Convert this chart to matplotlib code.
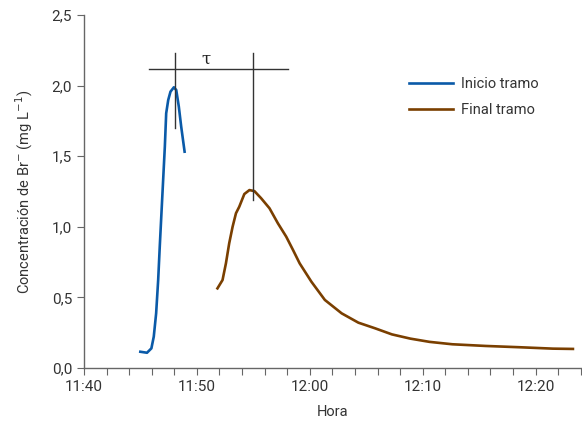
import numpy as np
import matplotlib
matplotlib.use("Agg")
import matplotlib.pyplot as plt
from matplotlib.ticker import MultipleLocator, FuncFormatter

plt.rcParams['font.family'] = ['Roboto', 'DejaVu Sans']

# minutes after 11:40
t_inicio = [4.99, 5.58, 5.97, 6.18, 6.39, 6.57, 6.71, 6.86, 7.01, 7.16, 7.28, 7.46, 7.66,
            7.96, 8.17, 8.40, 8.61, 8.91]
c_inicio = [0.115, 0.108, 0.139, 0.222, 0.387, 0.623, 0.859, 1.096, 1.331, 1.567, 1.804,
            1.898, 1.957, 1.988, 1.969, 1.85, 1.709, 1.532]

t_final = [11.82, 12.27, 12.57, 12.86, 13.16, 13.46, 13.75, 14.20, 14.65, 15.09, 15.69, 16.43,
           17.17, 17.91, 18.51, 19.10, 20.14, 21.33, 22.82, 24.30, 25.78, 27.27, 28.90,
           30.60, 32.62, 35.59, 38.56, 41.53, 43.30]
c_final = [0.564, 0.623, 0.741, 0.883, 1.0, 1.096, 1.142, 1.232, 1.26, 1.253, 1.202, 1.131,
           1.025, 0.93, 0.836, 0.741, 0.611, 0.482, 0.387, 0.321, 0.281, 0.238, 0.208,
           0.185, 0.168, 0.156, 0.147, 0.137, 0.135]

# tau annotation (peak times)
t_pico1, t_pico2 = 8.02, 14.94

fig = plt.figure(figsize=(5.82, 4.24), dpi=100)
ax = fig.add_axes([0.1443, 0.1321, 0.8537, 0.8325])

ax.plot(t_inicio, c_inicio, color='#0a5aa8', lw=1.9, label='Inicio tramo',
        solid_joinstyle='round')
ax.plot(t_final, c_final, color='#7a3f00', lw=1.9, label='Final tramo',
        solid_joinstyle='round')

kw = dict(color='#333333', lw=1.0)
ax.plot([5.73, 18.07], [2.117, 2.117], **kw)
ax.plot([t_pico1, t_pico1], [1.697, 2.228], **kw)
ax.plot([t_pico2, t_pico2], [1.19, 2.228], **kw)
ax.text(10.78, 2.19, 'τ', ha='center', va='center', fontsize=12, color='#222222',
        family=['DejaVu Serif'])

ax.set_xlim(0, 44)
ax.set_ylim(0, 2.5)
ax.xaxis.set_major_locator(MultipleLocator(10))
ax.xaxis.set_minor_locator(MultipleLocator(2))
ax.yaxis.set_major_locator(MultipleLocator(0.5))


def fmt_hora(x, pos):
    total = int(round(x)) + 40
    return f"{11 + total // 60}:{total % 60:02d}"


ax.xaxis.set_major_formatter(FuncFormatter(fmt_hora))
ax.yaxis.set_major_formatter(FuncFormatter(lambda v, p: f"{v:.1f}".replace('.', ',')))

for s in ['top', 'right']:
    ax.spines[s].set_visible(False)
for s in ['left', 'bottom']:
    ax.spines[s].set_color('#666666')
    ax.spines[s].set_linewidth(1.0)
ax.tick_params(which='both', color='#666666', direction='out', length=5, width=0.8,
               labelsize=11, labelcolor='#333333')

ax.set_xlabel('Hora', fontsize=10.5, color='#333333', labelpad=8)
ax.set_ylabel('Concentración de Br$^{-}$ (mg L$^{-1}$)', fontsize=10.5, color='#333333', labelpad=12)

leg = ax.legend(loc='upper left', bbox_to_anchor=(0.628, 0.861), frameon=False, fontsize=10.5,
                handlelength=3.0, handletextpad=0.55, labelspacing=0.8)
for t in leg.get_texts():
    t.set_color('#333333')

fig.savefig('out.png', dpi=100)
